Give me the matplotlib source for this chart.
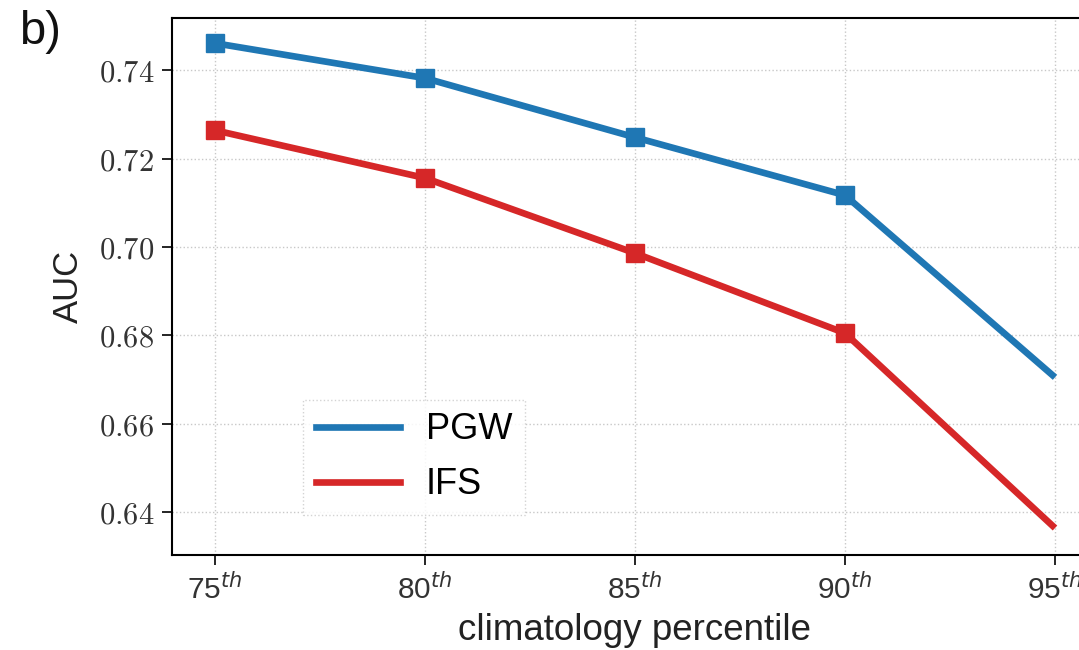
import matplotlib
matplotlib.use("Agg")
import matplotlib.pyplot as plt
from matplotlib.lines import Line2D

percentiles = [75, 80, 85, 90, 95]
tick_labels = [r"75$^{th}$", r"80$^{th}$", r"85$^{th}$", r"90$^{th}$", r"95$^{th}$"]
pgw_auc = [0.7461, 0.7382, 0.7248, 0.7117, 0.6705]
ifs_auc = [0.7264, 0.7156, 0.6986, 0.6805, 0.6364]
y_ticks = [0.64, 0.66, 0.68, 0.70, 0.72, 0.74]
series_names = ['PGW', 'IFS']
series_colors = ['#1f77b4', '#d62728']

plt.rcParams['font.family'] = ['Liberation Sans', 'DejaVu Sans']
plt.rcParams['mathtext.fontset'] = 'dejavusans'

fig = plt.figure(figsize=(10.79, 6.5), dpi=100)
ax = fig.add_axes([172/1079, 1 - 555/650, (1097 - 172)/1079, (555 - 18)/650])

for vals, name, col in zip([pgw_auc, ifs_auc], series_names, series_colors):
    ax.plot(percentiles, vals, color=col, lw=4.8, marker='s', ms=13,
            markevery=[0, 1, 2, 3], label=name, solid_capstyle='butt')

ax.set_xlim(73.98, 96.0)
ax.set_ylim(0.6303, 0.7518)
ax.set_xticks(percentiles)
ax.set_xticklabels(tick_labels, fontsize=21.5)
ax.set_yticks(y_ticks)
ax.set_yticklabels([f"${v:.2f}$" for v in y_ticks], fontsize=22)
for t in ax.get_yticklabels():
    t.set_math_fontfamily('cm')
    t.set_color('#333333')
for t in ax.get_xticklabels():
    t.set_color('#333333')

ax.tick_params(direction='out', length=7, width=1.2, pad=6)
ax.grid(True, linestyle=':', color='#c8c8c8', lw=1.0)
for s in ax.spines.values():
    s.set_linewidth(1.5)

ax.set_xlabel('climatology percentile', fontsize=26.5, color='#222222', labelpad=6)
ax.set_ylabel('AUC', fontsize=25, color='#222222', labelpad=10)

handles = [Line2D([], [], color=c, lw=4.8) for c in series_colors]
leg = ax.legend(handles, series_names, loc='lower left',
                bbox_to_anchor=(0.1416, 0.0745), fontsize=26,
                handlelength=2.35, handletextpad=0.7, borderpad=0.35,
                borderaxespad=0, labelspacing=0.55, fancybox=False,
                framealpha=0.85)
leg.get_frame().set_edgecolor('#cccccc')
leg.get_frame().set_linestyle(':')
leg.get_frame().set_linewidth(1.0)

fig.text(0.018, 0.985, 'b)', fontsize=34, va='top', ha='left', color='#111111')

fig.savefig('out.png', dpi=100)
